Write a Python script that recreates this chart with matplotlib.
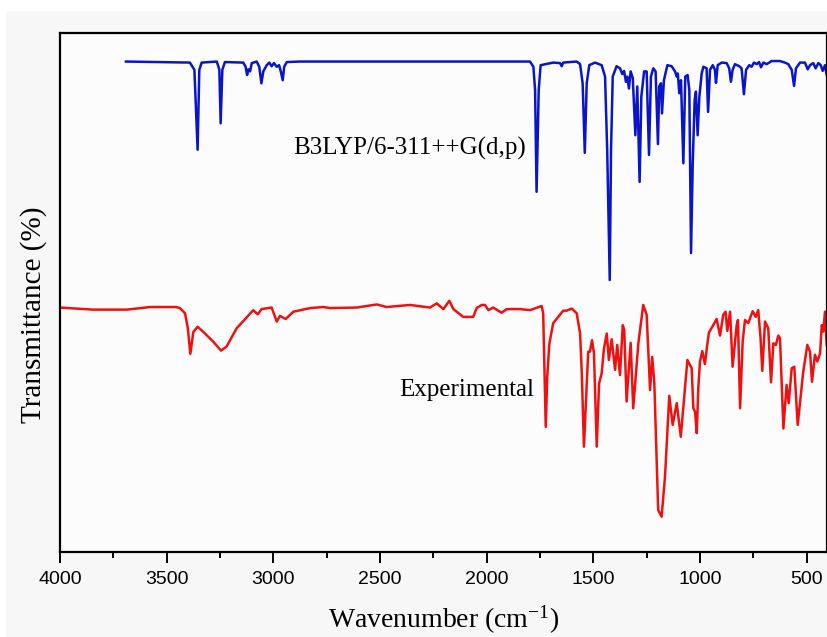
import matplotlib
matplotlib.use("Agg")
import matplotlib.pyplot as plt
from matplotlib.ticker import MultipleLocator, NullLocator
from matplotlib.patches import Rectangle
import numpy as np

# calculated spectrum, B3LYP/6-311++G(d,p)  (wavenumber cm-1, transmittance)
calc = [(3691, 94.5), (3391, 94.3), (3370, 92.9), (3355, 77.5), (3347, 92.9), (3336, 94.3),
        (3265, 94.5), (3253, 92.9), (3247, 82.6), (3239, 92.9), (3227, 94.4), (3141, 94.3),
        (3130, 93.5), (3123, 91.9), (3117, 93.0), (3109, 92.6), (3101, 94.2), (3078, 94.5),
        (3066, 93.5), (3056, 90.3), (3047, 92.6), (3031, 93.8), (3019, 94.3), (3008, 93.6),
        (2997, 94.2), (2984, 93.5), (2973, 93.8), (2965, 92.6), (2956, 90.9), (2949, 93.5),
        (2937, 94.4), (2875, 94.5), (1797, 94.5), (1781, 93.5), (1773, 89.0), (1766, 69.4),
        (1756, 89.0), (1747, 93.8), (1688, 94.3), (1656, 94.2), (1648, 93.6), (1641, 94.3),
        (1578, 94.5), (1562, 94.0), (1550, 90.3), (1540, 76.9), (1531, 90.3), (1519, 93.8),
        (1492, 94.3), (1461, 93.8), (1445, 91.6), (1435, 77.5), (1423, 52.4), (1417, 77.5),
        (1409, 91.6), (1391, 93.6), (1375, 93.2), (1364, 92.1), (1356, 92.7), (1347, 90.6),
        (1341, 91.6), (1333, 89.3), (1325, 92.6), (1315, 91.3), (1303, 80.3), (1294, 89.7),
        (1283, 71.3), (1275, 87.7), (1262, 92.6), (1250, 92.6), (1239, 76.5), (1230, 91.6),
        (1219, 93.2), (1208, 92.6), (1197, 78.6), (1191, 89.7), (1183, 90.3), (1178, 84.5),
        (1169, 90.9), (1153, 93.8), (1133, 93.6), (1117, 92.6), (1109, 91.6), (1104, 92.2),
        (1097, 88.4), (1089, 90.9), (1078, 74.9), (1069, 91.6), (1058, 91.9), (1050, 89.0),
        (1042, 57.6), (1034, 74.9), (1025, 87.1), (1019, 88.7), (1011, 80.3), (1003, 87.7),
        (992, 92.2), (984, 93.5), (969, 93.2), (962, 84.8), (953, 92.9), (940, 93.8),
        (930, 92.9), (925, 90.4), (917, 93.8), (898, 94.3), (875, 94.2), (863, 93.2),
        (855, 90.6), (847, 92.9), (836, 94.0), (816, 93.6), (805, 93.2), (794, 88.2),
        (784, 92.9), (769, 93.8), (758, 93.5), (747, 94.3), (734, 94.0), (723, 94.4),
        (714, 93.4), (703, 94.3), (687, 94.0), (664, 94.6), (625, 94.6), (602, 94.3),
        (586, 94.0), (570, 92.9), (559, 89.8), (550, 93.2), (531, 94.3), (508, 94.3),
        (495, 93.0), (484, 93.8), (469, 94.2), (458, 93.2), (445, 94.2), (434, 93.8),
        (425, 92.7), (414, 93.8), (406, 91.9)]

# experimental FT-IR spectrum
expt = [(4000, 47.1), (3844, 46.7), (3687, 46.7), (3578, 47.2), (3484, 47.2), (3456, 47.2),
        (3438, 47.0), (3414, 46.0), (3401, 43.2), (3389, 38.2), (3375, 42.4), (3355, 43.4),
        (3328, 42.4), (3281, 40.5), (3245, 38.8), (3219, 39.6), (3172, 43.1), (3094, 46.6),
        (3073, 45.8), (3055, 46.8), (3008, 47.1), (2984, 44.4), (2969, 45.5), (2942, 44.9),
        (2906, 46.3), (2828, 47.0), (2766, 47.2), (2734, 47.0), (2609, 47.1), (2515, 47.7),
        (2469, 47.2), (2359, 47.6), (2266, 47.1), (2234, 47.9), (2203, 46.8), (2175, 48.4),
        (2156, 46.8), (2125, 45.8), (2110, 45.3), (2063, 45.3), (2047, 47.0), (2023, 47.6),
        (2008, 47.6), (1992, 46.6), (1969, 47.1), (1930, 46.1), (1906, 46.8), (1844, 46.8),
        (1797, 46.6), (1742, 47.4), (1735, 46.0), (1723, 24.1), (1716, 33.8), (1706, 40.2),
        (1688, 44.1), (1641, 46.5), (1625, 46.5), (1601, 46.9), (1578, 46.0), (1562, 42.1),
        (1554, 34.4), (1544, 20.3), (1534, 29.3), (1524, 38.6), (1516, 38.6), (1506, 40.8),
        (1497, 38.3), (1484, 20.3), (1473, 32.5), (1461, 34.4), (1450, 39.2), (1437, 42.1),
        (1427, 37.0), (1414, 41.0), (1398, 35.1), (1388, 39.9), (1375, 34.1), (1362, 43.7),
        (1355, 42.8), (1344, 29.0), (1325, 40.3), (1313, 27.7), (1289, 40.2), (1266, 47.6),
        (1250, 45.7), (1234, 31.2), (1224, 37.6), (1214, 32.5), (1196, 8.1), (1180, 6.8),
        (1164, 14.5), (1144, 30.1), (1128, 24.5), (1109, 28.7), (1090, 22.2), (1075, 29.3),
        (1059, 37.0), (1039, 35.4), (1031, 27.7), (1023, 27.0), (1015, 22.9), (1008, 31.5),
        (1000, 36.7), (989, 38.7), (977, 36.2), (966, 39.9), (958, 42.3), (938, 43.7),
        (922, 44.9), (906, 41.7), (891, 45.7), (880, 46.3), (872, 42.6), (859, 46.3),
        (847, 35.7), (828, 43.7), (822, 44.7), (812, 27.7), (800, 40.5), (789, 44.7),
        (774, 44.1), (753, 46.4), (739, 45.3), (727, 46.6), (716, 41.2), (708, 34.9),
        (695, 44.4), (680, 43.1), (667, 32.7), (656, 40.2), (644, 39.9), (633, 41.7),
        (625, 41.2), (609, 23.8), (594, 32.2), (584, 28.7), (570, 35.4), (558, 35.7),
        (542, 24.5), (516, 34.7), (497, 39.9), (484, 38.6), (475, 32.8), (461, 38.0),
        (450, 36.7), (437, 38.3), (429, 43.7), (422, 42.5), (414, 46.3), (406, 39.9)]

calc_wn, calc_t = np.array(calc).T
expt_wn, expt_t = np.array(expt).T

plt.rcParams['mathtext.fontset'] = 'custom'
plt.rcParams['mathtext.rm'] = 'Liberation Serif'
plt.rcParams['mathtext.it'] = 'Liberation Serif:italic'

fig = plt.figure(figsize=(8.28, 6.37), dpi=100, facecolor='white')
fig.patches.append(Rectangle((6/828, 0), 1, (637-11)/637, transform=fig.transFigure,
                             facecolor='#f7f7f7', edgecolor='none', zorder=-10))
ax = fig.add_axes([60/828, 85/637, 766.7/828, 519/637])
ax.set_facecolor('#fcfcfc')

ax.plot(calc_wn, calc_t, color='#0a14c8', lw=1.8)
ax.plot(expt_wn, expt_t, color='#f01010', lw=1.8)

ax.text(2908, 76.5, 'B3LYP/6-311++G(d,p)', family='Liberation Serif', fontsize=18,
        va='baseline', ha='left')
ax.text(2411, 30.1, 'Experimental', family='Liberation Serif', fontsize=18,
        va='baseline', ha='left')

ax.set_xlim(4000, 406)
ax.set_ylim(0, 100)
ax.xaxis.set_major_locator(MultipleLocator(500))
ax.xaxis.set_minor_locator(MultipleLocator(250))
ax.yaxis.set_major_locator(NullLocator())
ax.tick_params(axis='x', which='major', length=8, width=1.4, labelsize=14, pad=6)
ax.tick_params(axis='x', which='minor', length=4, width=1.4)
for lab in ax.get_xticklabels():
    lab.set_family('Liberation Sans')
for s in ax.spines.values():
    s.set_linewidth(1.6)

ax.set_xlabel('Wavenumber (cm$^{-1}$)', family='Liberation Serif', fontsize=20, labelpad=11)
ax.set_ylabel('Transmittance (%)', family='Liberation Serif', fontsize=21, labelpad=9)
ax.yaxis.label.set_y(0.458)

fig.savefig('out.png', dpi=100, facecolor=fig.get_facecolor())
